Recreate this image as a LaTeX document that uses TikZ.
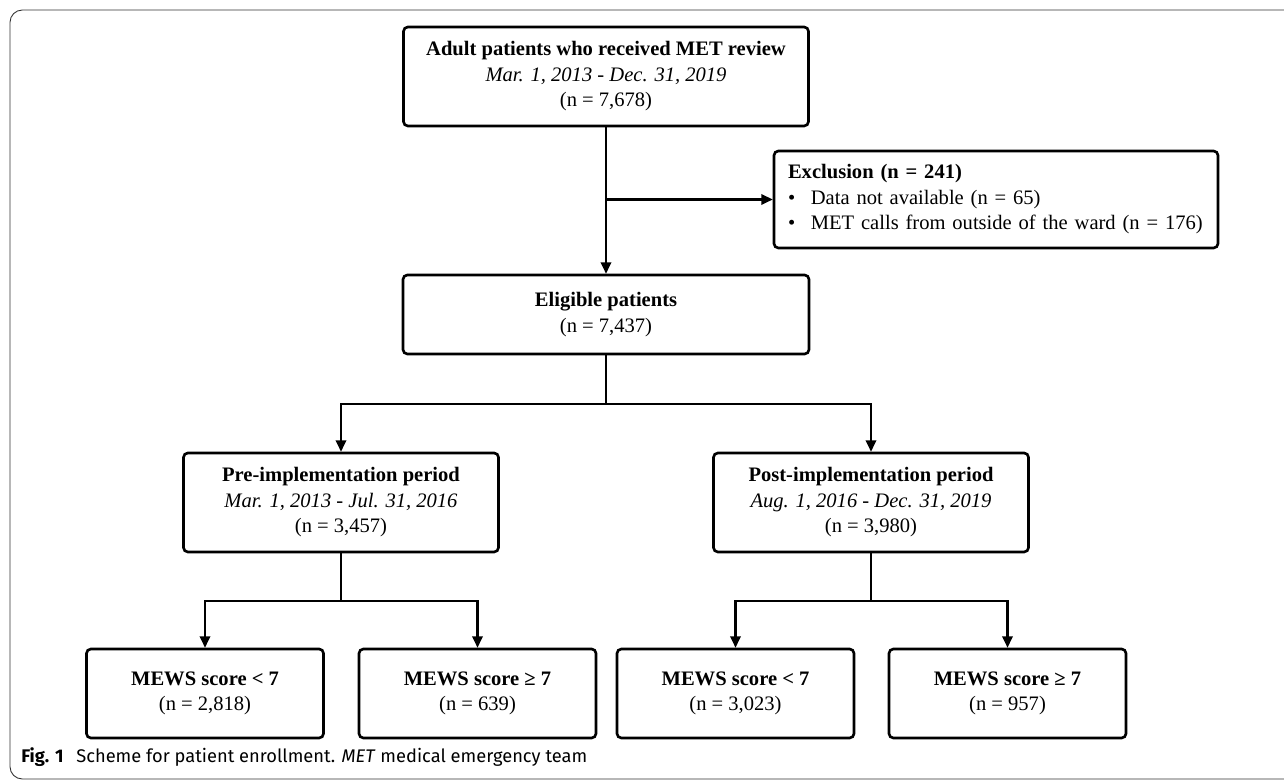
\documentclass[tikz,border=0pt]{standalone}
\usepackage{fontspec}
\setmainfont{Liberation Serif}
\newfontfamily\capfont{Fira Sans}
\usetikzlibrary{arrows.meta, positioning}

\begin{document}
\begin{tikzpicture}[
    box/.style={draw, line width=1.5pt, rounded corners=2.5pt, align=center, inner sep=0pt, font=\fontsize{11.7}{14.5}\selectfont},
    arrow/.style={-{Triangle[length=6.5pt,width=6pt]}, line width=1.15pt},
    link/.style={line width=1.15pt}
]
\useasboundingbox (0,0) rectangle (25.68,-15.6);
\draw[black!80, line width=0.5pt, rounded corners=7pt] (26,-0.2) -- (0.2,-0.2) -- (0.2,-15.58) -- (26,-15.58);

\node[box, minimum width=8.1cm, minimum height=1.98cm] (adult) at (12.12,-1.53) {\textbf{Adult patients who received MET review}\\\textit{Mar. 1, 2013 - Dec. 31, 2019}\\(n = 7,678)};
\node[box, minimum width=8.88cm, minimum height=1.94cm, text width=8.32cm, align=left] (excl) at (19.92,-3.99) {\textbf{Exclusion (n = 241)}\\\makebox[13pt][l]{\textbullet}Data not available (n = 65)\\\makebox[13pt][l]{\textbullet}MET calls from outside of the ward (n = 176)};
\node[box, minimum width=8.12cm, minimum height=1.58cm] (eligible) at (12.12,-6.29) {\textbf{Eligible patients}\\(n = 7,437)};

\node[box, minimum width=6.3cm, minimum height=1.98cm] (pre) at (6.82,-10.05) {\textbf{Pre-implementation period}\\\textit{Mar. 1, 2013 - Jul. 31, 2016}\\(n = 3,457)};
\node[box, minimum width=6.3cm, minimum height=1.98cm] (post) at (17.42,-10.05) {\textbf{Post-implementation period}\\\textit{Aug. 1, 2016 - Dec. 31, 2019}\\(n = 3,980)};

\node[box, minimum width=4.74cm, minimum height=1.78cm] (prelow) at (4.1,-13.87) {\textbf{MEWS score < 7}\\(n = 2,818)};
\node[box, minimum width=4.74cm, minimum height=1.78cm] (prehigh) at (9.55,-13.87) {\textbf{MEWS score ≥ 7}\\(n = 639)};
\node[box, minimum width=4.74cm, minimum height=1.78cm] (postlow) at (14.71,-13.87) {\textbf{MEWS score < 7}\\(n = 3,023)};
\node[box, minimum width=4.74cm, minimum height=1.78cm] (posthigh) at (20.15,-13.87) {\textbf{MEWS score ≥ 7}\\(n = 957)};

\node[anchor=west, inner sep=0pt, font=\capfont\fontsize{10.4}{12}\selectfont] (caption) at (0.42,-15.15) {\textbf{Fig. 1}\hspace{0.7em}Scheme for patient enrollment. \textit{MET} medical emergency team};

% split points
\coordinate (exclsplit) at (adult.south |- excl.west);
\coordinate[below=0.98cm of eligible.south] (split);
\coordinate[below=0.96cm of pre.south] (presplit);
\coordinate[below=0.96cm of post.south] (postsplit);

\draw[arrow] (adult.south) -- (eligible.north);
\draw[arrow] (exclsplit) -- (excl.west);
\draw[link] (eligible.south) -- (split);
\draw[arrow] (split) -| (pre.north);
\draw[arrow] (split) -| (post.north);
\draw[link] (pre.south) -- (presplit);
\draw[arrow] (presplit) -| (prelow.north);
\draw[arrow] (presplit) -| (prehigh.north);
\draw[link] (post.south) -- (postsplit);
\draw[arrow] (postsplit) -| (postlow.north);
\draw[arrow] (postsplit) -| (posthigh.north);
\end{tikzpicture}
\end{document}
